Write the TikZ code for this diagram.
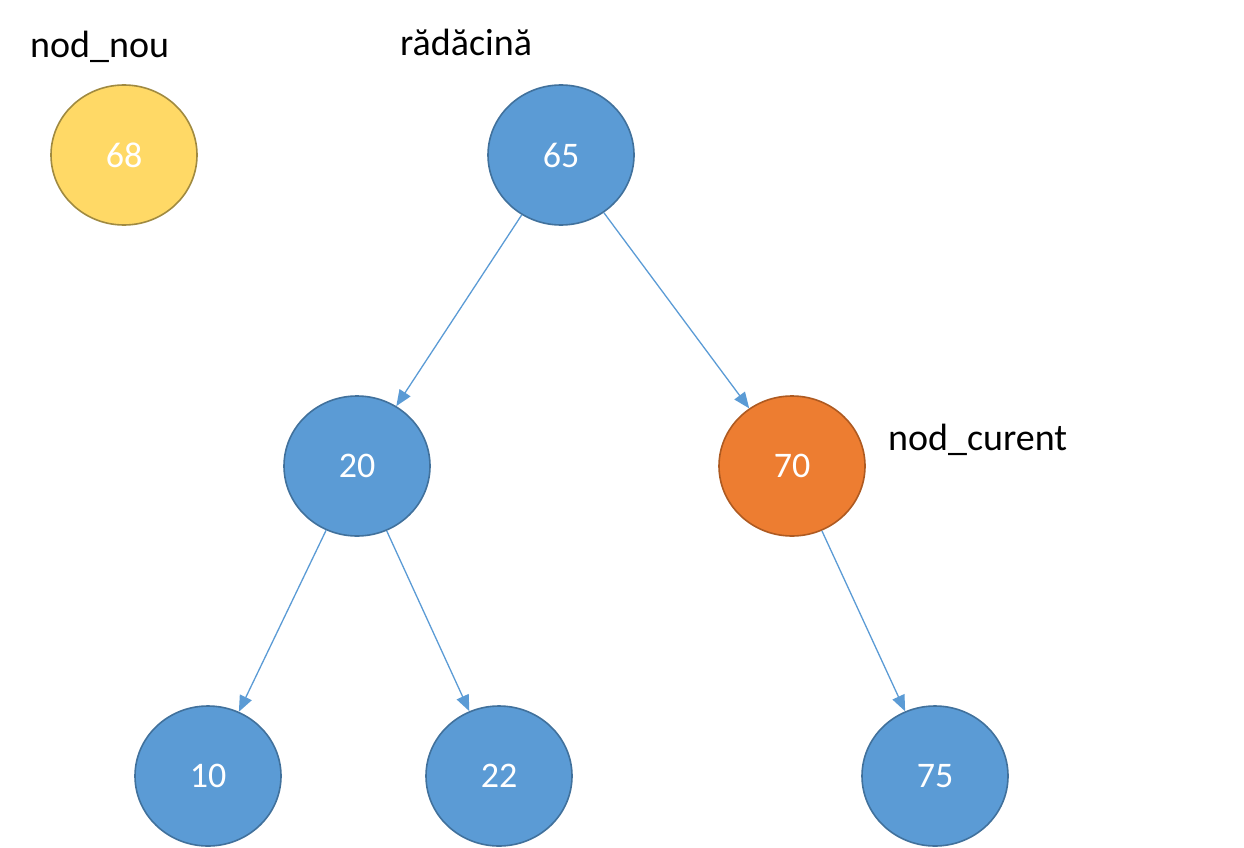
\documentclass[tikz,border=0pt]{standalone}
\usepackage{fontspec}
\setmainfont{Carlito}
\usetikzlibrary{shapes.geometric,arrows.meta}
\definecolor{nblue}{HTML}{5B9BD5}
\definecolor{nbluedk}{HTML}{41719C}
\definecolor{nyel}{HTML}{FFD966}
\definecolor{nyeldk}{HTML}{A08A40}
\definecolor{norg}{HTML}{ED7D31}
\definecolor{norgdk}{HTML}{AE5A21}
\begin{document}
\begin{tikzpicture}[x=1pt,y=-1pt,
  nd/.style={ellipse,minimum width=146pt,minimum height=140pt,inner sep=0pt,fill=nblue,draw=nbluedk,line width=1.6pt,text=white,font=\fontsize{36}{40}\selectfont},
  lb/.style={font=\fontsize{38}{44}\selectfont,text=black,inner sep=0pt},
  ed/.style={draw=nblue,line width=1.3pt,-{Triangle[length=16pt,width=13pt]}}]
\useasboundingbox (0,0) rectangle (1244,848);
\node[nd,fill=nyel,draw=nyeldk] (n68) at (124,155) {68};
\node[nd] (n65) at (561,155) {65};
\node[nd] (n20) at (357,466) {20};
\node[nd,fill=norg,draw=norgdk] (n70) at (792,466) {70};
\node[nd] (n10) at (208,776) {10};
\node[nd] (n22) at (499,776) {22};
\node[nd] (n75) at (935,776) {75};
\node[lb,anchor=base west] (lnou) at (30,58) {nod\_nou};
\node[lb,anchor=base west] (lrad) at (400,56) {rădăcină};
\node[lb,anchor=base west] (lcur) at (888,450) {nod\_curent};
\draw[ed] (n65) -- (n20);
\draw[ed] (n65) -- (n70);
\draw[ed] (n20) -- (n10);
\draw[ed] (n20) -- (n22);
\draw[ed] (n70) -- (n75);
\end{tikzpicture}
\end{document}
